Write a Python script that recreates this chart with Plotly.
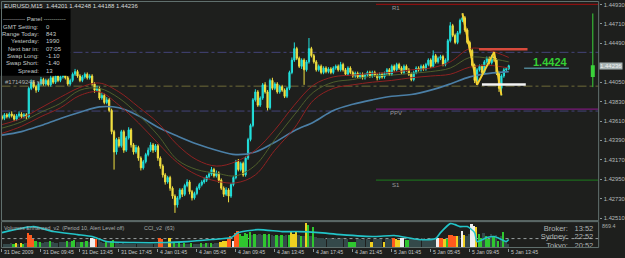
import plotly.graph_objects as go

W, H = 625, 258
BG = "#1e1f1d"
FRAME = "#62716f"
TXT = "#c4c8c8"
FONT = "Liberation Sans"

# ---------------- EURUSD M15 candles (bar index 0..208) ----------------
opens = [1.4366,1.4364,1.4368,1.4366,1.4369,1.4367,1.4363,1.4367,1.4369,1.4366,
         1.4368,1.4366,1.4398,1.4405,1.4400,1.4396,1.4403,1.4408,1.4403,1.4407,
         1.4402,1.4410,1.4405,1.4412,1.4407,1.4411,1.4415,1.4410,1.4403,1.4407,
         1.4414,1.4417,1.4412,1.4407,1.4411,1.4414,1.4410,1.4412,1.4403,1.4396,
         1.4398,1.4387,1.4390,1.4382,1.4385,1.4373,1.4349,1.4326,1.4340,1.4333,
         1.4349,1.4328,1.4342,1.4351,1.4334,1.4326,1.4331,1.4319,1.4308,1.4315,
         1.4323,1.4328,1.4334,1.4328,1.4333,1.4319,1.4310,1.4300,1.4292,1.4297,
         1.4285,1.4276,1.4266,1.4274,1.4283,1.4278,1.4288,1.4292,1.4281,1.4274,
         1.4279,1.4285,1.4289,1.4292,1.4294,1.4298,1.4301,1.4306,1.4299,1.4302,
         1.4294,1.4285,1.4278,1.4283,1.4276,1.4289,1.4297,1.4315,1.4306,1.4313,
         1.4300,1.4319,1.4340,1.4356,1.4385,1.4394,1.4379,1.4387,1.4402,1.4394,
         1.4376,1.4407,1.4398,1.4403,1.4394,1.4400,1.4396,1.4389,1.4398,1.4416,
         1.4430,1.4443,1.4432,1.4423,1.4430,1.4419,1.4428,1.4443,1.4435,1.4428,
         1.4419,1.4423,1.4416,1.4421,1.4417,1.4420,1.4416,1.4421,1.4423,1.4419,
         1.4425,1.4419,1.4414,1.4421,1.4416,1.4412,1.4415,1.4411,1.4414,1.4410,
         1.4413,1.4416,1.4412,1.4416,1.4413,1.4410,1.4414,1.4411,1.4415,1.4419,
         1.4414,1.4423,1.4419,1.4425,1.4421,1.4416,1.4423,1.4419,1.4414,1.4408,
         1.4416,1.4421,1.4419,1.4423,1.4420,1.4425,1.4430,1.4423,1.4435,1.4428,
         1.4432,1.4434,1.4425,1.4430,1.4452,1.4469,1.4458,1.4450,1.4461,1.4475,
         1.4478,1.4464,1.4450,1.4441,1.4424,1.4407,1.4419,1.4423,1.4416,1.4428,
         1.4432,1.4427,1.4434,1.4430,1.4415,1.4398,1.4412,1.4419,1.44201]
highs = [1.4368,1.4370,1.4370,1.4371,1.4372,1.4369,1.4369,1.4372,1.4371,1.4370,
         1.4370,1.4400,1.4408,1.4407,1.4402,1.4405,1.4411,1.4410,1.4409,1.4409,
         1.4413,1.4412,1.4414,1.4414,1.4413,1.4418,1.4417,1.4412,1.4409,1.4416,
         1.4420,1.4419,1.4414,1.4413,1.4416,1.4416,1.4414,1.4414,1.4405,1.4401,
         1.4400,1.4393,1.4392,1.4388,1.4387,1.4375,1.4351,1.4342,1.4343,1.4351,
         1.4351,1.4344,1.4354,1.4353,1.4336,1.4334,1.4333,1.4321,1.4317,1.4325,
         1.4331,1.4337,1.4336,1.4335,1.4335,1.4321,1.4312,1.4302,1.4299,1.4299,
         1.4287,1.4278,1.4276,1.4285,1.4285,1.4290,1.4295,1.4294,1.4283,1.4281,
         1.4287,1.4291,1.4294,1.4297,1.4300,1.4303,1.4309,1.4308,1.4305,1.4304,
         1.4296,1.4287,1.4286,1.4285,1.4291,1.4299,1.4317,1.4318,1.4315,1.4315,
         1.4321,1.4342,1.4358,1.4387,1.4397,1.4396,1.4389,1.4404,1.4405,1.4396,
         1.4409,1.4410,1.4405,1.4405,1.4402,1.4402,1.4398,1.4400,1.4418,1.4433,
         1.4450,1.4445,1.4434,1.4432,1.4432,1.4430,1.4455,1.4445,1.4437,1.4430,
         1.4425,1.4425,1.4423,1.4423,1.4422,1.4422,1.4423,1.4425,1.4425,1.4428,
         1.4427,1.4421,1.4423,1.4423,1.4418,1.4417,1.4417,1.4416,1.4416,1.4415,
         1.4418,1.4418,1.4418,1.4418,1.4415,1.4416,1.4416,1.4417,1.4421,1.4421,
         1.4425,1.4425,1.4427,1.4427,1.4423,1.4425,1.4425,1.4421,1.4416,1.4418,
         1.4423,1.4423,1.4425,1.4425,1.4427,1.4432,1.4432,1.4441,1.4437,1.4434,
         1.4436,1.4436,1.4432,1.4454,1.4473,1.4471,1.4460,1.4463,1.4477,1.4483,
         1.4480,1.4466,1.4452,1.4443,1.4426,1.4421,1.4425,1.4425,1.4430,1.4434,
         1.4434,1.4436,1.4439,1.4432,1.4417,1.4414,1.4421,1.4422,1.44248]
lows = [1.4362,1.4362,1.4364,1.4364,1.4365,1.4361,1.4361,1.4365,1.4364,1.4364,
        1.4363,1.4364,1.4396,1.4398,1.4393,1.4394,1.4401,1.4401,1.4401,1.4400,
        1.4400,1.4403,1.4403,1.4405,1.4405,1.4409,1.4408,1.4401,1.4401,1.4405,
        1.4412,1.4410,1.4405,1.4405,1.4409,1.4408,1.4408,1.4401,1.4393,1.4394,
        1.4385,1.4385,1.4380,1.4380,1.4371,1.4346,1.4306,1.4323,1.4331,1.4331,
        1.4325,1.4326,1.4340,1.4331,1.4323,1.4324,1.4316,1.4305,1.4306,1.4313,
        1.4321,1.4326,1.4325,1.4326,1.4316,1.4307,1.4297,1.4289,1.4290,1.4282,
        1.4273,1.4257,1.4263,1.4272,1.4275,1.4276,1.4286,1.4278,1.4271,1.4272,
        1.4277,1.4283,1.4287,1.4290,1.4292,1.4296,1.4299,1.4297,1.4297,1.4291,
        1.4283,1.4275,1.4276,1.4269,1.4274,1.4287,1.4295,1.4304,1.4304,1.4298,
        1.4298,1.4317,1.4338,1.4354,1.4383,1.4377,1.4377,1.4385,1.4392,1.4373,
        1.4374,1.4396,1.4396,1.4392,1.4392,1.4394,1.4387,1.4387,1.4396,1.4414,
        1.4428,1.4430,1.4421,1.4420,1.4402,1.4417,1.4426,1.4433,1.4426,1.4417,
        1.4417,1.4414,1.4414,1.4415,1.4415,1.4414,1.4414,1.4419,1.4417,1.4417,
        1.4417,1.4412,1.4412,1.4414,1.4410,1.4410,1.4409,1.4409,1.4408,1.4408,
        1.4411,1.4410,1.4410,1.4411,1.4407,1.4408,1.4409,1.4409,1.4413,1.4412,
        1.4412,1.4417,1.4417,1.4419,1.4414,1.4414,1.4417,1.4412,1.4406,1.4406,
        1.4414,1.4417,1.4417,1.4418,1.4418,1.4423,1.4421,1.4421,1.4426,1.4426,
        1.4430,1.4423,1.4423,1.4428,1.4450,1.4456,1.4448,1.4448,1.4459,1.4473,
        1.4462,1.4448,1.4439,1.4422,1.4404,1.4402,1.4417,1.4414,1.4414,1.4426,
        1.4425,1.4425,1.4428,1.4413,1.4394,1.4390,1.4410,1.4417,1.44188]
closes = [1.4364,1.4368,1.4366,1.4369,1.4367,1.4363,1.4367,1.4369,1.4366,1.4368,
          1.4366,1.4398,1.4405,1.4400,1.4396,1.4403,1.4408,1.4403,1.4407,1.4402,
          1.4410,1.4405,1.4412,1.4407,1.4411,1.4415,1.4410,1.4403,1.4407,1.4414,
          1.4417,1.4412,1.4407,1.4411,1.4414,1.4410,1.4412,1.4403,1.4396,1.4398,
          1.4387,1.4390,1.4382,1.4385,1.4373,1.4349,1.4326,1.4340,1.4333,1.4349,
          1.4328,1.4342,1.4351,1.4334,1.4326,1.4331,1.4319,1.4308,1.4315,1.4323,
          1.4328,1.4334,1.4328,1.4333,1.4319,1.4310,1.4300,1.4292,1.4297,1.4285,
          1.4276,1.4266,1.4274,1.4283,1.4278,1.4288,1.4292,1.4281,1.4274,1.4279,
          1.4285,1.4289,1.4292,1.4294,1.4298,1.4301,1.4306,1.4299,1.4302,1.4294,
          1.4285,1.4278,1.4283,1.4276,1.4289,1.4297,1.4315,1.4306,1.4313,1.4300,
          1.4319,1.4340,1.4356,1.4385,1.4394,1.4379,1.4387,1.4402,1.4394,1.4376,
          1.4407,1.4398,1.4403,1.4394,1.4400,1.4396,1.4389,1.4398,1.4416,1.4430,
          1.4443,1.4432,1.4423,1.4430,1.4419,1.4428,1.4443,1.4435,1.4428,1.4419,
          1.4423,1.4416,1.4421,1.4417,1.4420,1.4416,1.4421,1.4423,1.4419,1.4425,
          1.4419,1.4414,1.4421,1.4416,1.4412,1.4415,1.4411,1.4414,1.4410,1.4413,
          1.4416,1.4412,1.4416,1.4413,1.4410,1.4414,1.4411,1.4415,1.4419,1.4414,
          1.4423,1.4419,1.4425,1.4421,1.4416,1.4423,1.4419,1.4414,1.4408,1.4416,
          1.4421,1.4419,1.4423,1.4420,1.4425,1.4430,1.4423,1.4435,1.4428,1.4432,
          1.4434,1.4425,1.4430,1.4452,1.4469,1.4458,1.4450,1.4461,1.4475,1.4478,
          1.4464,1.4450,1.4441,1.4424,1.4407,1.4419,1.4423,1.4416,1.4428,1.4432,
          1.4427,1.4434,1.4430,1.4415,1.4398,1.4412,1.4419,1.44201,1.44236]
bars = list(range(len(closes)))

time_label_bars = [0, 16, 32, 48, 64, 80, 96, 112, 128, 144, 160, 176, 192, 208]
time_labels = ["31 Dec 2009", "31 Dec 09:45", "31 Dec 13:45", "31 Dec 17:45",
               "4 Jan 01:45", "4 Jan 05:45", "4 Jan 09:45", "4 Jan 13:45",
               "4 Jan 17:45", "4 Jan 21:45", "5 Jan 01:45", "5 Jan 05:45",
               "5 Jan 09:45", "5 Jan 13:45"]
price_ticks = [1.4493, 1.4471, 1.4449, 1.4405, 1.4383, 1.4361,
               1.4339, 1.4317, 1.4295, 1.4273, 1.4251]
last_price = 1.44236

# moving averages, sampled every 8 bars
ma_bars = [0, 8, 16, 24, 32, 40, 48, 56, 64, 72, 80, 88, 96, 104, 112,
           120, 128, 136, 144, 152, 160, 168, 176, 184, 192, 200, 208]
ma_slow = [1.4345,1.4349,1.4356,1.4364,1.4371,1.4377,1.4376,1.4367,1.4354,1.4344,
           1.4335,1.4328,1.4323,1.4326,1.4337,1.4350,1.4360,1.4373,1.4380,1.4385,
           1.4389,1.4391,1.4396,1.4403,1.4411,1.4415,1.4417]
ma_upper = [1.4357,1.4364,1.4376,1.4388,1.4399,1.4404,1.4394,1.4377,1.4359,1.4334,
            1.4317,1.4310,1.4315,1.4328,1.4351,1.4379,1.4402,1.4411,1.4413,1.4415,
            1.4416,1.4419,1.4421,1.4428,1.4443,1.4441,1.4433]
ma_mid = [1.4353,1.4360,1.4371,1.4381,1.4396,1.4398,1.4387,1.4368,1.4345,1.4317,
          1.4306,1.4302,1.4299,1.4311,1.4340,1.4368,1.4394,1.4405,1.4408,1.4412,
          1.4413,1.4415,1.4417,1.4421,1.4433,1.4432,1.4428]
ma_lower = [1.4347,1.4355,1.4366,1.4376,1.4390,1.4394,1.4379,1.4359,1.4336,1.4314,
            1.4300,1.4293,1.4291,1.4300,1.4328,1.4353,1.4385,1.4398,1.4402,1.4405,
            1.4407,1.4410,1.4412,1.4414,1.4422,1.4424,1.4421]

# zigzag
zigzag_bars = [189, 195, 202, 205]
zigzag_prices = [1.4483, 1.4402, 1.4439, 1.4390]

# levels
pivot_r1, pivot_pp, pivot_s1 = 1.4493, 1.43745, 1.4294
pivot_start_bar = 153.5
dashdot_levels = [1.44388, 1.44005, 1.43723]
dashdot_colors = ["#44447a", "#6f6a38", "#44447a"]
box_high, box_low = 1.44422, 1.44023
box_high_bars = [195.8, 215.7]
box_low_bars = [197.0, 215.0]
bid_line_bars = [214.3, 232.7]
bid_line_price = 1.44208
day_bar = 242.5
day_open, day_high, day_low, day_close = 1.44109, 1.44828, 1.43994, 1.44242

# ---------------- lower panel ----------------
volumes = [140,120,150,130,160,140,180,150,170,140,
           160,520,450,300,250,220,200,180,210,190,
           230,200,180,170,200,190,210,240,200,230,
           260,210,190,220,200,230,210,330,300,320,
           260,200,180,210,200,250,280,200,170,150,
           160,140,150,130,150,140,130,140,120,130,
           140,120,130,140,150,350,320,180,200,340,
           200,180,150,160,140,170,150,140,160,130,
           150,140,160,150,170,160,180,150,170,180,
           220,230,250,360,420,230,520,590,480,420,
           520,500,560,460,500,450,480,440,470,450,
           500,440,420,460,430,450,420,440,460,540,
           500,550,460,430,420,860,790,420,720,380,
           350,330,340,320,350,330,310,340,320,300,
           330,310,320,210,200,220,300,310,290,300,
           310,290,210,300,320,310,300,220,310,300,
           320,350,300,290,340,350,290,280,300,320,
           310,300,320,330,310,320,300,330,320,330,
           340,330,320,300,450,460,430,400,420,590,
           450,420,480,830,760,730,480,350,520,420,
           300,500,380,450,250,400,550,200,150]
vol_kind = ("gggggGYgYG" "gRRRGgGggg" "GggggggGgG" "GggGgGgWWR" "gggGgGGggg"
            "gggggggggg" "gggggRRggY" "gGgGgGggGg" "ggGgGgGggg" "YYYRRWRRGG"
            "GGGgGgggGg" "GggGgGggGY" "YYgGgYGgGg" "gggggggggg" "gggGGGgggg"
            "ggYggggYgg" "gRYYWWGGgg" "gggggggggW" "RRYGRRRYgW" "YggWWYGGgG"
            "GgGgGgGgg")
vol_palette = {"g": "#34494a", "G": "#2fc72f", "R": "#ff5a1e", "Y": "#f0d020", "W": "#eeeeee"}
vol_alert = 311
cci_bars = [0,13,21,31,37,43,54,67,76,86,94,97,105,115,122,130,139,153,161,
            171,178,180,184,186,188,191,194,195,199,202,205,207,208]
cci_values = [38,154,58,0,-38,-135,-154,-154,-135,-96,-58,38,96,58,58,38,0,-38,-19,
              -96,-77,38,212,192,154,154,38,-135,-58,-38,-96,-135,-96]

# ---------------- figure ----------------
def px(x):
    return x / W

def py(y):
    return 1 - y / H

X_RANGE = [-0.2, 244.9]
Y_RANGE = [1.424821, 1.449637]

fig = go.Figure()

fig.add_trace(go.Candlestick(
    x=bars, open=opens, high=highs, low=lows, close=closes,
    increasing=dict(line=dict(color="#22e0dc", width=1), fillcolor="#22e0dc"),
    decreasing=dict(line=dict(color="#f2e040", width=1), fillcolor="#f2e040"),
    whiskerwidth=0, xaxis="x", yaxis="y", hoverinfo="skip"))

for vals, col, wd in [(ma_slow, "#4b7fa6", 1.6), (ma_upper, "#8f2222", 1),
                      (ma_mid, "#4f5f2c", 1), (ma_lower, "#8f2222", 1)]:
    fig.add_trace(go.Scatter(x=ma_bars, y=vals, mode="lines",
                             line=dict(color=col, width=wd, shape="spline", smoothing=1.0),
                             xaxis="x", yaxis="y", hoverinfo="skip"))

fig.add_trace(go.Scatter(x=zigzag_bars, y=zigzag_prices, mode="lines",
                         line=dict(color="#f5d030", width=2), xaxis="x", yaxis="y"))
fig.add_trace(go.Scatter(x=box_high_bars, y=[box_high, box_high], mode="lines",
                         line=dict(color="#d84a3c", width=2.5), xaxis="x", yaxis="y"))
fig.add_trace(go.Scatter(x=box_low_bars, y=[box_low, box_low], mode="lines",
                         line=dict(color="#f4f4f4", width=2.5), xaxis="x", yaxis="y"))
fig.add_trace(go.Scatter(x=bid_line_bars, y=[bid_line_price, bid_line_price], mode="lines",
                         line=dict(color="#4f8292", width=1.5), xaxis="x", yaxis="y"))
fig.add_trace(go.Scatter(x=[day_bar, day_bar], y=[day_low, day_high], mode="lines",
                         line=dict(color="#3ad23a", width=1), xaxis="x", yaxis="y"))
fig.add_trace(go.Scatter(x=[day_bar, day_bar], y=[day_open, day_close], mode="lines",
                         line=dict(color="#3ad23a", width=4), xaxis="x", yaxis="y"))

# lower panel
fig.add_trace(go.Bar(x=bars, y=volumes, width=0.75,
                     marker=dict(color=[vol_palette[k] for k in vol_kind], line=dict(width=0)),
                     xaxis="x2", yaxis="y2", hoverinfo="skip"))
fig.add_trace(go.Scatter(x=cci_bars, y=cci_values, mode="lines",
                         line=dict(color="#22c4c8", width=1.6, shape="spline", smoothing=0.6),
                         xaxis="x2", yaxis="y3", hoverinfo="skip"))
# clock box (text clipped by the lower panel)
fig.add_trace(go.Scatter(x=[232.3, 232.3, 232.3], y=[657, 346, 35], mode="text",
                         text=["Broker:", "Sydney:", "Tokyo:"], textposition="middle left",
                         textfont=dict(family=FONT, size=7.5, color="#aeb4b4"),
                         cliponaxis=True, xaxis="x2", yaxis="y2"))
fig.add_trace(go.Scatter(x=[235.0, 235.0, 235.0], y=[657, 346, 35], mode="text",
                         text=["13:52", "22:52", "20:52"], textposition="middle right",
                         textfont=dict(family=FONT, size=7.5, color="#aeb4b4"),
                         cliponaxis=True, xaxis="x2", yaxis="y2"))

shapes = []
# pivot lines
for lvl, col in [(pivot_r1, "#8a1010"), (pivot_pp, "#7a1a7a"), (pivot_s1, "#1d6a1d")]:
    shapes.append(dict(type="line", xref="x", yref="y", x0=pivot_start_bar, x1=X_RANGE[1],
                       y0=lvl, y1=lvl, line=dict(color=col, width=1.2), layer="below"))
for lvl, col in zip(dashdot_levels, dashdot_colors):
    shapes.append(dict(type="line", xref="x", yref="y", x0=X_RANGE[0], x1=X_RANGE[1],
                       y0=lvl, y1=lvl, line=dict(color=col, width=1, dash="dashdot"), layer="below"))
shapes.append(dict(type="line", xref="x2", yref="y2", x0=X_RANGE[0], x1=X_RANGE[1],
                   y0=vol_alert, y1=vol_alert, line=dict(color="#9aa0a0", width=1, dash="dot"),
                   layer="below"))
# info panel box
shapes.append(dict(type="rect", xref="paper", yref="paper", x0=px(0), x1=px(71),
                   y0=py(76), y1=py(9), fillcolor="#000000", line=dict(width=0), layer="above"))
# frames
shapes.append(dict(type="rect", xref="paper", yref="paper", x0=px(1.5), x1=px(602.5),
                   y0=py(221.5), y1=py(1.5), line=dict(color=FRAME, width=1), layer="above"))
shapes.append(dict(type="rect", xref="paper", yref="paper", x0=px(1.5), x1=px(602.5),
                   y0=py(248.5), y1=py(222.5), line=dict(color=FRAME, width=1), layer="above"))

ann = []

def label(text, x, y, size=6, color=TXT, anchor="left", bold=False, **kw):
    t = f"<b>{text}</b>" if bold else text
    d = dict(text=t, x=px(x), y=py(y), xref="paper", yref="paper", xanchor=anchor,
             yanchor="middle", showarrow=False, font=dict(family=FONT, size=size, color=color))
    d.update(kw)
    ann.append(d)

label("EURUSD,M15  1.44201 1.44248 1.44188 1.44236", 2, 6, size=6, color="#d8dcdc")
label("----------- Panel -----------", 35, 19.5, size=6, anchor="center")
panel_rows = [("GMT Setting:", "0"), ("Range Today:", "843"), ("Yesterday:", "1990"),
              ("Next bar in:", "07:05"), ("Swap Long:", "-1.10"), ("Swap Short:", "-1.40"),
              ("Spread:", "13")]
for k, (name, val) in enumerate(panel_rows):
    yy = 26.8 + k * 7.37
    label(name, 41.5, yy, size=6, anchor="right")
    label(val, 44, yy, size=6)
label("#17149248 sel", 3, 82, size=6, color="#a8acac")
label("R1", 393, 8.5, size=6, color="#9a9a9a")
label("PPV", 391, 113.5, size=6, color="#9a9a9a")
label("S1", 393, 186, size=6, color="#9a9a9a")
label("1.4424", 554, 62, size=11, color="#34d034", anchor="center", bold=True)
label("Volumes Enhanced_v2  (Period 10, Alert Level off)", 2, 229, size=5.4, color="#a8acac")
label("CCI_v2  (63)", 143, 229, size=5.4, color="#a8acac")
label("869.4", 604, 227, size=5.4, color="#a8acac")
ann.append(dict(text="1.44236", x=px(603), y=last_price, xref="paper", yref="y",
                xanchor="left", yanchor="middle", showarrow=False, bgcolor="#a5b1b1",
                borderpad=0, font=dict(family=FONT, size=6, color="#f2f2f2")))
for b, t in zip(time_label_bars, time_labels):
    ann.append(dict(text=t, x=b, xref="x2", y=py(253), yref="paper", xanchor="left",
                    yanchor="middle", showarrow=False, xshift=0.5,
                    font=dict(family=FONT, size=5.2, color="#c4c8c8")))

fig.update_layout(
    width=W, height=H, margin=dict(l=0, r=0, t=0, b=0),
    paper_bgcolor=BG, plot_bgcolor=BG, showlegend=False,
    shapes=shapes, annotations=ann,
    xaxis=dict(domain=[px(1.5), px(602.5)], range=X_RANGE, showgrid=False, zeroline=False,
               showticklabels=False, rangeslider=dict(visible=False), anchor="y"),
    yaxis=dict(domain=[py(221.5), py(1.5)], range=Y_RANGE, side="right", showgrid=False,
               zeroline=False, tickvals=price_ticks, ticktext=[f"{v:.5f}" for v in price_ticks],
               ticks="outside", ticklen=2, tickcolor="#8a9494", ticklabelstandoff=1,
               tickfont=dict(family=FONT, size=5.8, color="#b4baba"), anchor="x"),
    xaxis2=dict(domain=[px(1.5), px(602.5)], range=X_RANGE, matches="x", showgrid=False,
                zeroline=False, showticklabels=False, tickvals=time_label_bars,
                ticks="outside", ticklen=3, tickcolor="#8a9494", anchor="y2"),
    yaxis2=dict(domain=[py(248.5), py(222.5)], range=[0, 900], showgrid=False, zeroline=False,
                showticklabels=False, anchor="x2"),
    yaxis3=dict(range=[-250, 250], overlaying="y2", showgrid=False, zeroline=False,
                showticklabels=False, visible=False),
    bargap=0,
)

fig.write_html("out.html")
